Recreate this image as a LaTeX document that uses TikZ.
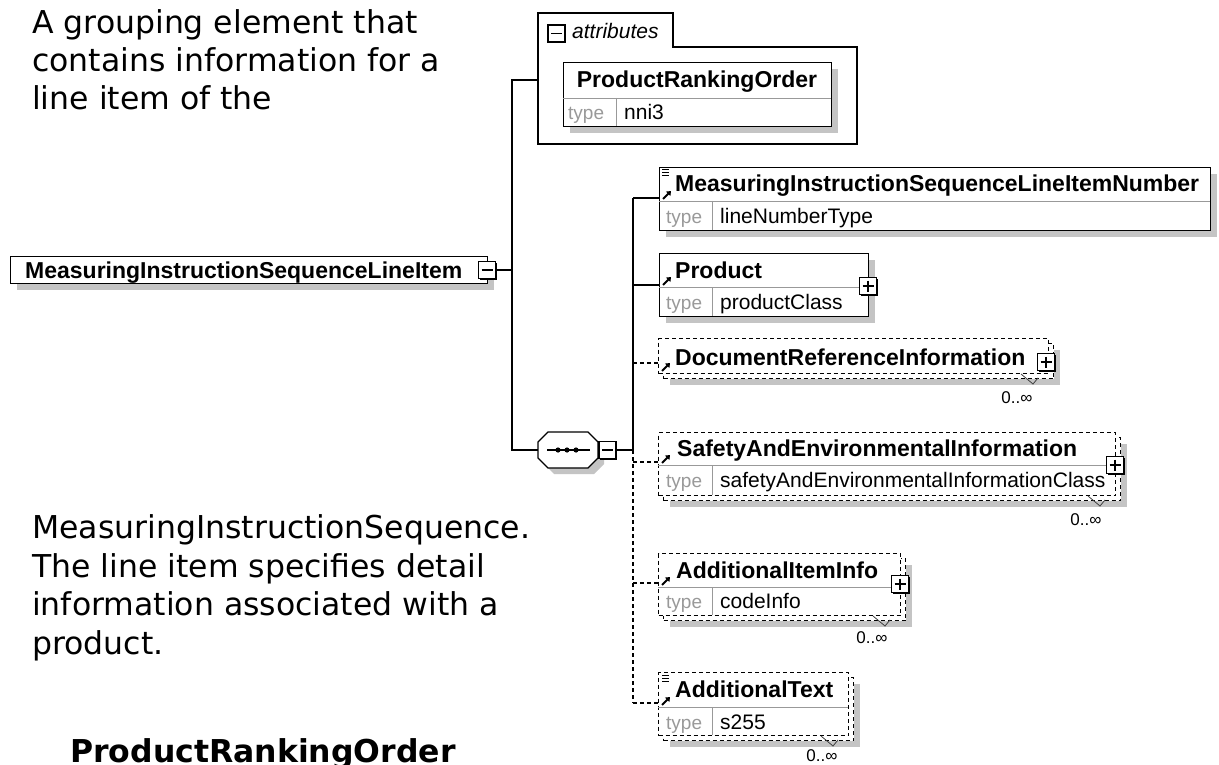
\documentclass[tikz,border=0pt]{standalone}
\usepackage{fontspec}
\setmainfont{DejaVu Sans}
\newfontfamily\arialfont{Liberation Sans}
\usetikzlibrary{arrows.meta,shadows}

\begin{document}
\begin{tikzpicture}[x=1pt,y=-1pt,
  elem/.style={draw, fill=white, line width=1.2pt, inner sep=0, anchor=north west},
  optelem/.style={elem, dash pattern=on 4pt off 3pt},
  shadowed/.style={drop shadow={shadow xshift=6pt, shadow yshift=-6pt, fill=black!23, opacity=1}},
  divider/.style={draw=black!40, line width=0.9pt},
  conn/.style={line width=1.2pt},
  optconn/.style={conn, dash pattern=on 4pt off 3pt},
  ename/.style={anchor=base west, inner sep=0, font=\arialfont\bfseries\fontsize{23}{27}\selectfont},
  tlabel/.style={anchor=base west, inner sep=0, text=black!40, font=\arialfont\fontsize{19}{22}\selectfont},
  tvalue/.style={anchor=base west, inner sep=0, font=\arialfont\fontsize{21}{25}\selectfont},
  occur/.style={inner sep=0, font=\arialfont\fontsize{17}{20}\selectfont},
  tick/.style={draw=black!75, line width=0.8pt},
  desc/.style={anchor=base west, inner sep=0, font=\fontsize{31.5}{38}\selectfont},
  refarrow/.style={-{Triangle[length=4pt,width=6pt]}, line width=1.8pt},
  btnminus/.style={draw, fill=white, line width=1.4pt, minimum size=17pt, inner sep=0,
    drop shadow={shadow xshift=1.3pt, shadow yshift=-1.3pt, fill=black, opacity=1},
    path picture={\draw[line width=1.2pt] ([xshift=3pt]path picture bounding box.west) -- ([xshift=-3pt]path picture bounding box.east);}},
  btnplus/.style={draw, fill=white, line width=1.4pt, minimum size=17pt, inner sep=0,
    drop shadow={shadow xshift=1.3pt, shadow yshift=-1.3pt, fill=black, opacity=1},
    path picture={\draw[line width=1.2pt] ([xshift=3pt]path picture bounding box.west) -- ([xshift=-3pt]path picture bounding box.east);
      \draw[line width=1.2pt] ([yshift=-3pt]path picture bounding box.north) -- ([yshift=3pt]path picture bounding box.south);}},
]
\useasboundingbox[fill=white] (0,0) rectangle (1219,765);

% description text
\node[desc] (d1) at (32,34) {A grouping element that};
\node[desc] (d2) at (32,72) {contains information for a};
\node[desc] (d3) at (32,110) {line item of the};
\node[desc] (d4) at (32,538) {MeasuringInstructionSequence.};
\node[desc] (d5) at (32,577) {The line item specifies detail};
\node[desc] (d6) at (32,615) {information associated with a};
\node[desc] (d7) at (32,654) {product.};
\node[desc, font=\bfseries\fontsize{31.5}{38}\selectfont] (d8) at (70,762) {ProductRankingOrder};

% attributes group
\draw[conn, fill=white] (538,13) -- (673,13) -- (673,47) -- (857,47) -- (857,144) -- (538,144) -- cycle;
\coordinate (attin) at (538,80);
\node[btnminus] (attbtn) at (556.5,33.5) {};
\node[anchor=base west, inner sep=0, font=\arialfont\itshape\fontsize{21}{25}\selectfont] (attlbl) at (572,39) {attributes};
\node[elem, shadowed, minimum width=268pt, minimum height=64pt] (rankattr) at (563,62) {};
\draw[divider] (563,98) -- (831,98);
\draw[divider] (616,98) -- (616,126);
\node[ename, anchor=base] (rankname) at (697,88) {ProductRankingOrder};
\node[tlabel] (ranktype) at (568,120) {type};
\node[tvalue] (rankval) at (624,120) {nni3};

% root element
\node[elem, shadowed, minimum width=477pt, minimum height=27pt] (root) at (10,256) {};
\node[ename] (rootname) at (25,278) {MeasuringInstructionSequenceLineItem};
\node[btnminus] (rootbtn) at (487,270) {};
\coordinate (attj) at (512,80);
\coordinate (rootj) at (512,270);
\coordinate (seqj) at (512,450);
\coordinate (seqw) at (538,450);
\draw[conn] (rootbtn.east) -- (rootj);
\draw[conn] (attin) -- (attj) -- (seqj) -- (seqw);

% sequence compositor
\fill[black!23] (554,438) -- (594,438) -- (604,448) -- (604,464) -- (594,474) -- (554,474) -- (544,464) -- (544,448) -- cycle;
\draw[conn, fill=white] (548,432) -- (588,432) -- (598,442) -- (598,458) -- (588,468) -- (548,468) -- (538,458) -- (538,442) -- cycle;
\draw[conn] (547,450) -- (590,450);
\fill (558,450) circle (2.6) (567,450) circle (2.6) (576,450) circle (2.6);
\node[btnminus] (seqbtn) at (607.5,450) {};
\coordinate (tseq) at (633,450);
\draw[conn] (seqbtn.east) -- (tseq);

% child trunk
\coordinate (t1) at (633,198);
\coordinate (t2) at (633,285);
\coordinate (t3) at (633,363);
\coordinate (t4) at (633,462);
\coordinate (t5) at (633,583);
\coordinate (t6) at (633,703);
\draw[conn] (tseq) -- (t1);
\draw[optconn] (tseq) -- (t6);

% MeasuringInstructionSequenceLineItemNumber
\node[elem, shadowed, minimum width=551pt, minimum height=63pt] (lineno) at (659,167) {};
\draw[divider] (659,201) -- (1210,201);
\draw[divider] (712,201) -- (712,230);
\draw[line width=1pt] (662,170) -- (669,170) (662,173) -- (669,173) (662,176) -- (669,176);
\draw[refarrow] (663,199) -- (671,191);
\node[ename] (linenoname) at (675,192) {MeasuringInstructionSequenceLineItemNumber};
\node[tlabel] (linenotype) at (666,223) {type};
\node[tvalue] (linenoval) at (720,223) {lineNumberType};
\draw[conn] (t1) -- (lineno.west |- t1);

% Product
\node[elem, shadowed, minimum width=209pt, minimum height=63pt] (product) at (659,253) {};
\draw[divider] (659,287) -- (868,287);
\draw[divider] (712,287) -- (712,316);
\draw[refarrow] (663,285) -- (671,277);
\node[ename] (productname) at (675,278) {Product};
\node[tlabel] (producttype) at (666,309) {type};
\node[tvalue] (productval) at (720,309) {productClass};
\node[btnplus] (productbtn) at (868,286) {};
\draw[conn] (t2) -- (product.west |- t2);

% DocumentReferenceInformation
\node[optelem, shadowed, minimum width=390pt, minimum height=35pt] (docrefb) at (663,343) {};
\node[optelem, minimum width=390pt, minimum height=35pt] (docref) at (658,338) {};
\draw[refarrow] (662,371) -- (670,363);
\node[ename] (docrefname) at (675,365) {DocumentReferenceInformation};
\node[btnplus] (docrefbtn) at (1046,362) {};
\draw[tick] (1021,374) -- (1033,384) -- (1038,378);
\node[occur] (docrefocc) at (1017,398) {0..∞};
\draw[optconn] (t3) -- (docref.west |- t3);

% SafetyAndEnvironmentalInformation
\node[optelem, shadowed, minimum width=457pt, minimum height=63pt] (safetyb) at (663,437) {};
\node[optelem, minimum width=457pt, minimum height=63pt] (safety) at (658,432) {};
\draw[divider] (658,465) -- (1115,465);
\draw[divider] (712,465) -- (712,495);
\draw[refarrow] (662,463) -- (670,455);
\node[ename] (safetyname) at (677,456) {SafetyAndEnvironmentalInformation};
\node[tlabel] (safetytype) at (666,487) {type};
\node[tvalue] (safetyval) at (720,487) {safetyAndEnvironmentalInformationClass};
\node[btnplus] (safetybtn) at (1115,465) {};
\draw[tick] (1088,496) -- (1100,506) -- (1105,500);
\node[occur] (safetyocc) at (1086,520) {0..∞};
\draw[optconn] (t4) -- (safety.west |- t4);

% AdditionalItemInfo
\node[optelem, shadowed, minimum width=242pt, minimum height=62pt] (iteminfob) at (663,558) {};
\node[optelem, minimum width=242pt, minimum height=62pt] (iteminfo) at (658,553) {};
\draw[divider] (658,587) -- (900,587);
\draw[divider] (712,587) -- (712,615);
\draw[refarrow] (662,585) -- (670,577);
\node[ename] (iteminfoname) at (676,578) {AdditionalItemInfo};
\node[tlabel] (iteminfotype) at (666,608) {type};
\node[tvalue] (iteminfoval) at (720,608) {codeInfo};
\node[btnplus] (iteminfobtn) at (900,584) {};
\draw[tick] (873,616) -- (885,626) -- (890,620);
\node[occur] (iteminfoocc) at (872,638) {0..∞};
\draw[optconn] (t5) -- (iteminfo.west |- t5);

% AdditionalText
\node[optelem, shadowed, minimum width=190pt, minimum height=63pt] (addtextb) at (663,677) {};
\node[optelem, minimum width=190pt, minimum height=63pt] (addtext) at (658,672) {};
\draw[divider] (658,707) -- (848,707);
\draw[divider] (712,707) -- (712,735);
\draw[line width=1pt] (662,675) -- (669,675) (662,678) -- (669,678) (662,681) -- (669,681);
\draw[refarrow] (662,705) -- (670,697);
\node[ename] (addtextname) at (675,697) {AdditionalText};
\node[tlabel] (addtexttype) at (666,729) {type};
\node[tvalue] (addtextval) at (720,729) {s255};
\draw[tick] (821,736) -- (833,746) -- (838,740);
\node[occur] (addtextocc) at (822,756) {0..∞};
\draw[optconn] (t6) -- (addtext.west |- t6);
\end{tikzpicture}
\end{document}
